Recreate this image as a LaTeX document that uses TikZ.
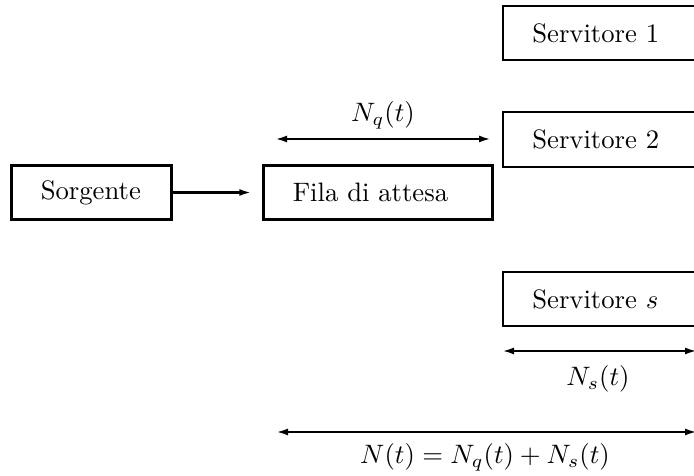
\documentclass[tikz,border=0pt]{standalone}
\usetikzlibrary{arrows.meta}
\begin{document}
\begin{tikzpicture}[x=0.375pt,y=-0.375pt,
  box/.style={draw,line width=0.75pt,minimum height=20.5pt,inner xsep=11pt,align=left,anchor=west},
  heavybox/.style={box,line width=1.1pt},
  tipped/.style={line width=0.85pt,{Latex[length=4.5pt,width=2.6pt]}-{Latex[length=4.5pt,width=2.6pt]}},
  onetip/.style={line width=0.85pt,-{Latex[length=4.5pt,width=2.6pt]}}]
\useasboundingbox (0,0) rectangle (694,476);
\clip (0,0) rectangle (694,476);
\node[heavybox,text width=38pt] (src) at (10,192.5) {Sorgente};
\node[heavybox,text width=64pt] (queue) at (262,192.5) {Fila di attesa};
\node[box,text width=64pt] (s1) at (502,33) {Servitore 1};
\node[box,text width=64pt] (s2) at (502,139.5) {Servitore 2};
\node[box,text width=64pt] (ss) at (502,299) {Servitore $s$};
\draw[onetip,shorten >=4pt] (src.east) -- (queue.west);
\coordinate (nqa) at (275,139);
\coordinate (nqb) at (491,139);
\draw[tipped] (nqa) -- (nqb);
\node (nql) at (383,115) {$N_q(t)$};
\coordinate (nsa) at (502,351);
\coordinate (nsb) at (697,351);
\draw[tipped] (nsa) -- (nsb);
\node (nsl) at (598,379) {$N_s(t)$};
\coordinate (na) at (276,432);
\coordinate (nb) at (697,432);
\draw[tipped] (na) -- (nb);
\node (nl) at (485,457) {$N(t) = N_q(t) + N_s(t)$};
\end{tikzpicture}
\end{document}
